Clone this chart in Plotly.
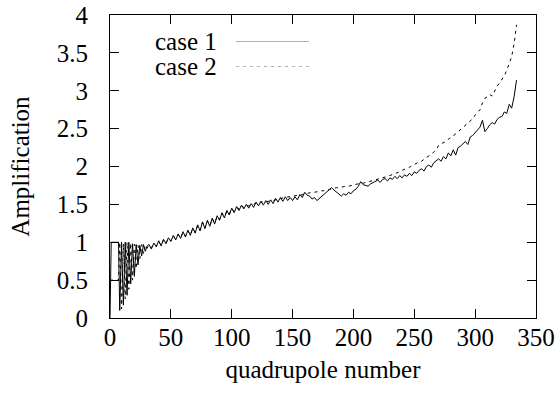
import plotly.graph_objects as go

# ---- data ----
x_early = [0, 1, 7, 8, 9.5, 11, 12.5, 14, 15.5, 17, 18.5, 20, 21.5, 23, 24.5, 26, 27.5, 29, 30.5]
c1_early = [0, 1, 1, 0.1, 1.0, 0.17, 1.0, 0.3, 1.0, 0.45, 0.98, 0.55, 0.97, 0.7, 0.96, 0.82, 0.97, 0.88, 0.95]
c2_early = [0.5, 0.5, 0.5, 1.0, 0.12, 0.98, 0.25, 1.0, 0.38, 0.99, 0.5, 0.97, 0.65, 0.96, 0.78, 0.97, 0.85, 0.96, 0.92]

x_main = list(range(32, 336, 2))
case1_main = [
    0.97, 0.91, 0.99, 0.94, 1.02, 0.95, 1.04, 0.98, 1.06, 1.01,
    1.09, 1.03, 1.11, 1.05, 1.14, 1.07, 1.16, 1.09, 1.19, 1.12,
    1.23, 1.15, 1.27, 1.18, 1.29, 1.21, 1.32, 1.24, 1.35, 1.29,
    1.39, 1.32, 1.42, 1.36, 1.45, 1.39, 1.47, 1.42, 1.49, 1.44,
    1.50, 1.45, 1.51, 1.46, 1.53, 1.48, 1.54, 1.49, 1.55, 1.50,
    1.56, 1.51, 1.58, 1.53, 1.59, 1.54, 1.60, 1.55, 1.59, 1.55,
    1.60, 1.56, 1.63, 1.59, 1.66, 1.62, 1.61, 1.57, 1.59, 1.55,
    1.58, 1.60, 1.63, 1.66, 1.70, 1.72, 1.69, 1.66, 1.63, 1.61,
    1.64, 1.62, 1.66, 1.64, 1.68, 1.70, 1.74, 1.80, 1.76, 1.75,
    1.74, 1.77, 1.79, 1.80, 1.82, 1.79, 1.83, 1.84, 1.81, 1.85,
    1.83, 1.87, 1.84, 1.88, 1.85, 1.89, 1.87, 1.91, 1.88, 1.93,
    1.91, 1.95, 1.97, 1.94, 2.00, 2.02, 1.99, 2.05, 2.08, 2.10,
    2.07, 2.13, 2.10, 2.18, 2.14, 2.22, 2.15, 2.25, 2.27, 2.30,
    2.33, 2.29, 2.39, 2.41, 2.45, 2.48, 2.52, 2.61, 2.46, 2.50,
    2.55, 2.58, 2.56, 2.62, 2.65, 2.66, 2.72, 2.70, 2.82, 2.77,
    2.92, 3.14,
]
case2_main = [
    0.96, 0.93, 0.98, 0.95, 1.01, 0.96, 1.03, 0.99, 1.05, 1.02,
    1.08, 1.04, 1.10, 1.06, 1.13, 1.08, 1.15, 1.10, 1.18, 1.13,
    1.22, 1.16, 1.26, 1.19, 1.28, 1.22, 1.31, 1.25, 1.34, 1.30,
    1.38, 1.34, 1.41, 1.37, 1.44, 1.41, 1.46, 1.44, 1.48, 1.46,
    1.49, 1.48, 1.50, 1.50, 1.52, 1.51, 1.53, 1.53, 1.54, 1.54,
    1.55, 1.55, 1.56, 1.57, 1.58, 1.58, 1.59, 1.60, 1.60, 1.61,
    1.61, 1.62, 1.62, 1.63, 1.64, 1.65, 1.65, 1.66, 1.66, 1.67,
    1.67, 1.68, 1.68, 1.69, 1.70, 1.71, 1.71, 1.72, 1.72, 1.73,
    1.73, 1.74, 1.74, 1.75, 1.76, 1.76, 1.77, 1.78, 1.78, 1.79,
    1.80, 1.81, 1.81, 1.82, 1.83, 1.84, 1.85, 1.86, 1.87, 1.88,
    1.89, 1.91, 1.92, 1.93, 1.95, 1.96, 1.98, 1.99, 2.01, 2.03,
    2.04, 2.06, 2.07, 2.10, 2.12, 2.14, 2.16, 2.19, 2.22, 2.28,
    2.30, 2.31, 2.33, 2.36, 2.38, 2.40, 2.43, 2.46, 2.49, 2.52,
    2.55, 2.57, 2.60, 2.63, 2.68, 2.72, 2.75, 2.84, 2.90, 2.92,
    2.95, 2.93, 3.00, 3.06, 3.10, 3.15, 3.20, 3.27, 3.35, 3.45,
    3.62, 3.87,
]

x_all = x_early + x_main
case1 = c1_early + case1_main
case2 = c2_early + case2_main

series_names = ["case 1", "case 2"]
x_ticks = [0, 50, 100, 150, 200, 250, 300, 350]
y_ticks = [0, 0.5, 1, 1.5, 2, 2.5, 3, 3.5, 4]

FONT = "Liberation Serif"
FS = 25

fig = go.Figure()
fig.add_trace(go.Scatter(x=x_all, y=case1, mode="lines", name=series_names[0],
                         line=dict(color="black", width=1), showlegend=False))
fig.add_trace(go.Scatter(x=x_all, y=case2, mode="lines", name=series_names[1],
                         line=dict(color="black", width=1, dash="3px,4px"), showlegend=False))

L, R, T, B = 110, 23, 15, 78
W, H = 559, 396
pw, ph = W - L - R, H - T - B
def px(xp): return (xp - L) / pw
def py(yp): return (H - B - yp) / ph

key_rows = [41.5, 66.5]
dashes = ["solid", "3px,4px"]
for name, yr, d in zip(series_names, key_rows, dashes):
    fig.add_annotation(x=px(219), y=py(yr), xref="paper", yref="paper", text=name,
                       showarrow=False, xanchor="right", yanchor="middle",
                       font=dict(family=FONT, size=FS, color="black"))
    fig.add_shape(type="line", xref="paper", yref="paper", x0=px(236), x1=px(309),
                  y0=py(yr), y1=py(yr), line=dict(color="black", width=1, dash=d))

axis_common = dict(showgrid=False, zeroline=False, showline=True, linecolor="black",
                   linewidth=1, mirror="ticks", ticks="inside", ticklen=9,
                   tickcolor="black", tickwidth=1, automargin=False)

fig.update_layout(
    template="simple_white",
    width=W, height=H,
    margin=dict(l=L, r=R, t=T, b=B),
    xaxis=dict(range=[0, 350], tickvals=x_ticks, ticklabelstandoff=-3,
               tickfont=dict(family=FONT, size=FS, color="black"),
               title=dict(text="quadrupole number", font=dict(family=FONT, size=FS, color="black"), standoff=10),
               **axis_common),
    yaxis=dict(range=[0, 4], tickvals=y_ticks, ticklabelstandoff=16,
               tickfont=dict(family=FONT, size=FS, color="black"),
               title=dict(text="Amplification", font=dict(family=FONT, size=FS, color="black"), standoff=20),
               **axis_common),
)

fig.write_html("out.html")
